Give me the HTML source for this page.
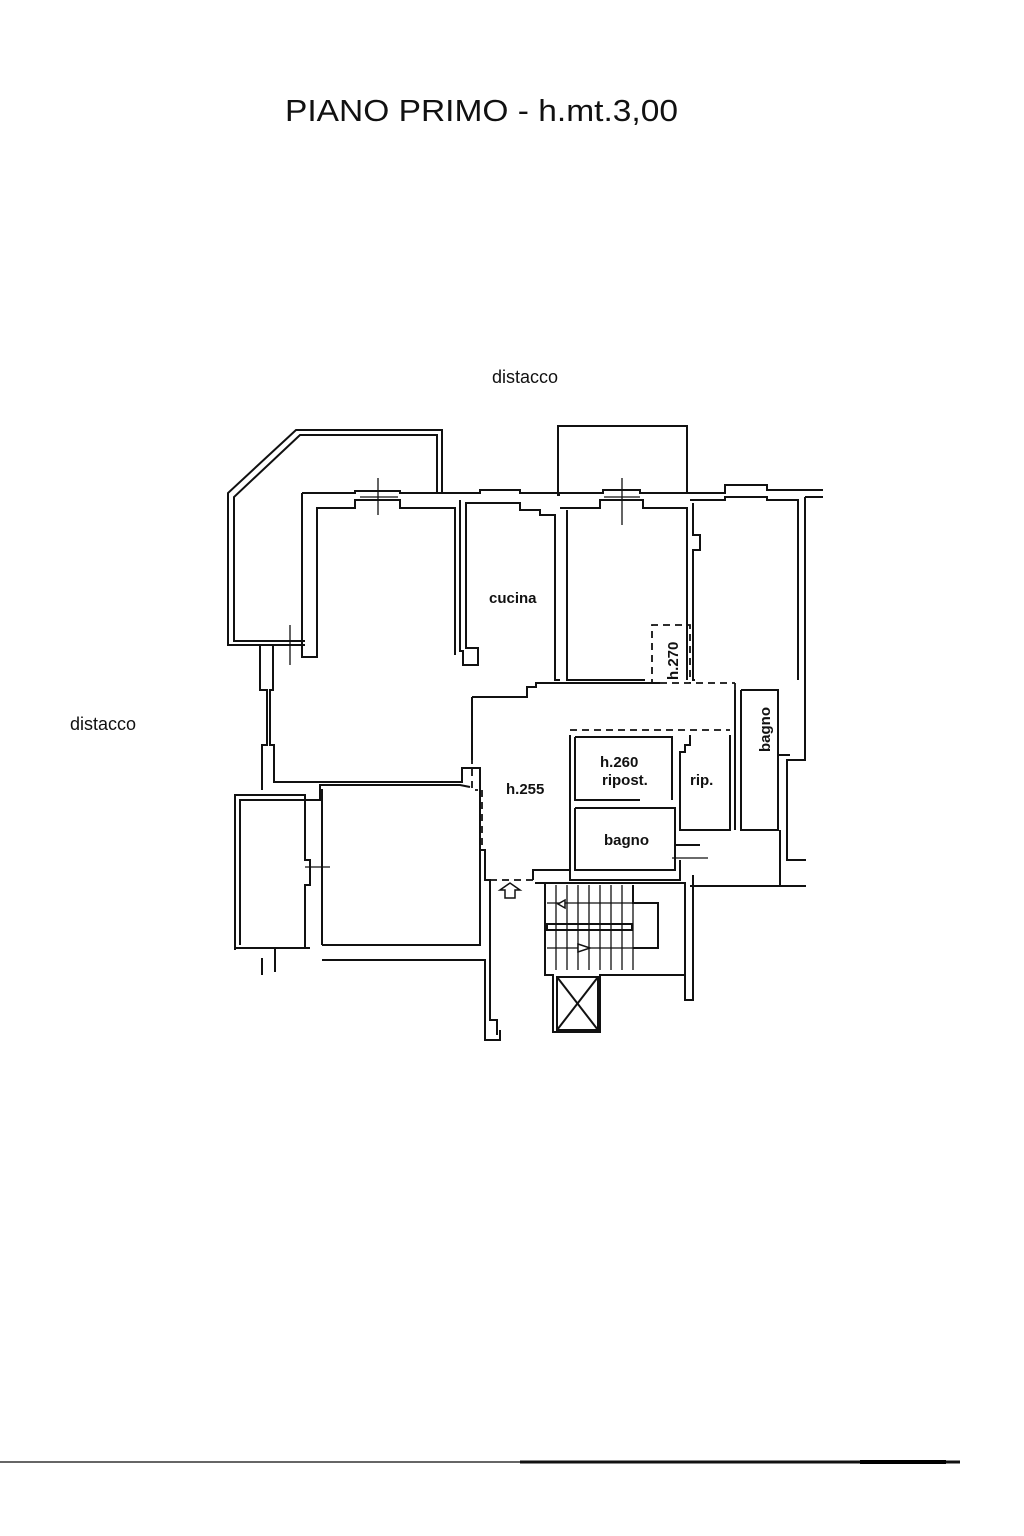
<!DOCTYPE html>
<html><head><meta charset="utf-8"><style>
html,body{margin:0;padding:0;background:#fff}
svg{display:block}
text{font-family:"Liberation Sans",Arial,sans-serif;fill:#111}
</style></head><body>
<svg width="1024" height="1536" viewBox="0 0 1024 1536" xmlns="http://www.w3.org/2000/svg">
<rect width="1024" height="1536" fill="#fff"/>
<text x="285" y="121" font-size="31" textLength="393" lengthAdjust="spacingAndGlyphs">PIANO PRIMO - h.mt.3,00</text>
<text x="492" y="383" font-size="18">distacco</text>
<text x="70" y="730" font-size="18">distacco</text>
<g fill="none" stroke="#111" stroke-width="2">
<polyline points="305,645 228,645 228,493 296,430 442,430 442,492"/>
<polyline points="305,641 234,641 234,497 300,435 437,435 437,492"/>
<polyline points="302,493 355,493 355,491 400,491 400,493 480,493 480,490 520,490 520,493 555,493"/>
<polyline points="302,493 302,657 317,657 317,508 355,508 355,500 400,500 400,508 455,508 455,655"/>
<polyline points="460,500 460,651 463,651 463,665 478,665 478,648 466,648 466,503 520,503 520,510 540,510 540,515 555,515 555,680 560,680"/>
<polyline points="560,495 558,495 558,426 687,426 687,492"/>
<polyline points="555,493 603,493 603,490 640,490 640,493 725,493 725,485 767,485 767,490 823,490"/>
<polyline points="560,508 600,508 600,500 643,500 643,508 687,508 687,680"/>
<polyline points="690,500 725,500 725,497 767,497 767,500 798,500 798,680"/>
<polyline points="567,510 567,680 645,680"/>
<polyline points="693,503 693,535 700,535 700,550 693,550 693,680 695,680"/>
<polyline points="805,497 823,497"/>
<polyline points="805,497 805,760 787,760 787,860 806,860"/>
<polyline points="260,645 260,690 267,690 267,745 262,745 262,790"/>
<polyline points="273,645 273,690 270,690 270,745 274,745 274,782 462,782 462,768 480,768 480,790"/>
<polyline points="272,800 320,800 320,785 460,785 470,787"/>
<polyline points="235,950 235,795 305,795 305,860 310,860 310,885 305,885 305,948 235,948"/>
<polyline points="240,945 240,800 300,800"/>
<polyline points="322,945 322,790 320,790"/>
<polyline points="322,945 480,945 480,790"/>
<polyline points="310,948 275,948 275,972"/>
<polyline points="262,958 262,975"/>
<polyline points="322,960 485,960 485,1040 500,1040 500,1030"/>
<polyline points="480,850 485,850 485,880 490,880 490,1020 497,1020 497,1035"/>
<polyline points="472,697 527,697 527,687 536,687 536,683 660,683"/>
<polyline points="472,697 472,760"/>
<!-- small rooms -->
<polyline points="570,735 570,880 680,880 680,860"/>
<polyline points="575,737 672,737 672,800"/>
<polyline points="575,737 575,800 640,800 M655,800 672,800"/>
<polyline points="575,808 675,808 675,870 575,870 575,808"/>
<polyline points="690,735 690,745 685,745 685,752 680,752 680,830 730,830 730,735"/>
<polyline points="735,690 735,830"/>
<polyline points="741,690 778,690 778,755 790,755"/>
<polyline points="741,690 741,830 778,830 778,755"/>
<polyline points="675,830 675,845 700,845 M700,830 700,886 778,886 778,845 700,845"/>
<polyline points="690,886 806,886"/>
<polyline points="780,830 780,886"/>
<polyline points="533,880 533,870 570,870"/>
<polyline points="535,883 685,883 685,1000 693,1000 693,875"/>
<polyline points="545,883 545,975 553,975 553,1032 600,1032 600,975 685,975"/>
<polyline points="633,885 633,903 658,903 658,948 633,948"/>
<rect x="547" y="924" width="85" height="6"/>
<rect x="557" y="977" width="41" height="53"/>
<line x1="557" y1="977" x2="598" y2="1030"/>
<line x1="598" y1="977" x2="557" y2="1030"/>
</g>
<g stroke="#111" stroke-width="1.3">
<line x1="556" y1="885" x2="556" y2="970"/><line x1="567" y1="885" x2="567" y2="970"/>
<line x1="578" y1="885" x2="578" y2="970"/><line x1="589" y1="885" x2="589" y2="970"/>
<line x1="600" y1="885" x2="600" y2="970"/><line x1="611" y1="885" x2="611" y2="970"/>
<line x1="622" y1="885" x2="622" y2="970"/><line x1="633" y1="885" x2="633" y2="970"/>
<line x1="547" y1="903" x2="633" y2="903"/><line x1="547" y1="948" x2="633" y2="948"/>
<line x1="378" y1="478" x2="378" y2="515"/><line x1="360" y1="497" x2="398" y2="497"/>
<line x1="290" y1="625" x2="290" y2="665"/><line x1="275" y1="645" x2="305" y2="645"/>
<line x1="622" y1="478" x2="622" y2="525"/><line x1="604" y1="497" x2="640" y2="497"/>
<line x1="305" y1="867" x2="330" y2="867"/>
<line x1="672" y1="858" x2="708" y2="858"/>
</g>
<g fill="none" stroke="#111" stroke-width="1.8" stroke-dasharray="7,5">
<polyline points="655,683 652,683 652,625 690,625 690,683"/>
<polyline points="660,683 735,683"/>
<polyline points="735,683 735,690"/>
<polyline points="570,730 730,730"/>
<polyline points="472,697 472,790 478,790"/>
<polyline points="482,790 482,850"/>
<polyline points="490,880 533,880"/>
</g>
<g fill="#fff" stroke="#111" stroke-width="1.5">
<polygon points="500,890 510,883 520,890 515,890 515,898 505,898 505,890"/>
<polygon points="565,900 558,904 565,908"/>
<polygon points="578,944 590,948 578,952"/>
</g>
<text x="489" y="603" font-size="15" font-weight="bold">cucina</text>
<text x="600" y="767" font-size="15" font-weight="bold">h.260</text>
<text x="602" y="785" font-size="15" font-weight="bold">ripost.</text>
<text x="690" y="785" font-size="15" font-weight="bold">rip.</text>
<text x="604" y="845" font-size="15" font-weight="bold">bagno</text>
<text x="506" y="794" font-size="15" font-weight="bold">h.255</text>
<text transform="translate(678,680) rotate(-90)" font-size="15" font-weight="bold">h.270</text>
<text transform="translate(770,752) rotate(-90)" font-size="15" font-weight="bold">bagno</text>
<line x1="0" y1="1462" x2="520" y2="1462" stroke="#333" stroke-width="1.5"/>
<line x1="520" y1="1462" x2="960" y2="1462" stroke="#111" stroke-width="3"/>
<line x1="860" y1="1462" x2="946" y2="1462" stroke="#000" stroke-width="4"/>
</svg>
</body></html>
